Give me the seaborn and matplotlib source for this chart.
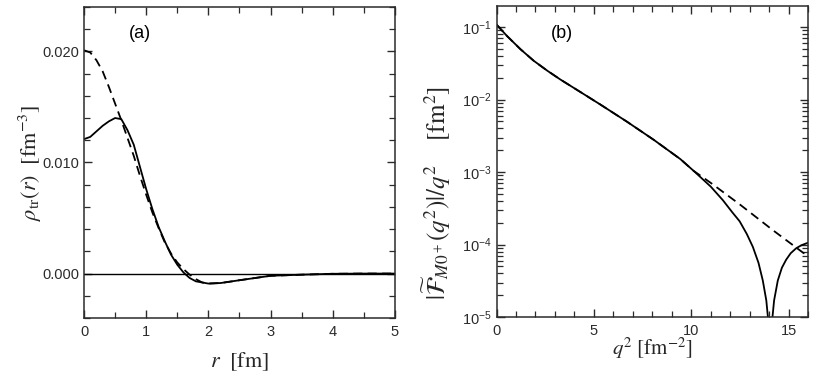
import numpy as np
import pandas as pd
import seaborn as sns
import matplotlib.pyplot as plt
from matplotlib.ticker import MultipleLocator, LogLocator, FuncFormatter, NullFormatter

sns.set_theme(style="ticks")
plt.rcParams["font.family"] = ["Liberation Sans", "DejaVu Sans"]
plt.rcParams["mathtext.fontset"] = "stix"

# panel (a): transition density vs r
r_solid = [0.0, 0.1, 0.2, 0.3, 0.4, 0.5, 0.6, 0.7, 0.8, 0.9, 1.0, 1.1, 1.2, 1.3, 1.4,
           1.5, 1.6, 1.7, 1.8, 1.9, 2.0, 2.2, 2.5, 2.75, 3.0, 3.5, 4.0, 4.5, 5.0]
rho_solid = [0.0121, 0.0123, 0.0128, 0.0133, 0.0137, 0.0140, 0.0139, 0.0129, 0.0116,
             0.0096, 0.0076, 0.0058, 0.0042, 0.0029, 0.0017, 0.0008, 0.0001, -0.0004,
             -0.0007, -0.0008, -0.0009, -0.00085, -0.0006, -0.0004, -0.0002, -0.0001,
             -0.00002, 0.0, 0.0]
r_dash = [0.0, 0.1, 0.2, 0.3, 0.4, 0.5, 0.6, 0.7, 0.8, 0.9, 1.0, 1.1, 1.2, 1.3, 1.4,
          1.5, 1.6, 1.7, 1.8, 1.9, 2.0, 2.2, 2.5, 2.75, 3.0, 3.5, 4.0, 4.5, 5.0]
rho_dash = [0.0201, 0.0199, 0.0192, 0.0182, 0.0168, 0.0153, 0.0138, 0.0122, 0.0106,
            0.0088, 0.0071, 0.0055, 0.0041, 0.0028, 0.0018, 0.0010, 0.0004, -0.0001,
            -0.0005, -0.0008, -0.0009, -0.00085, -0.0006, -0.0004, -0.0002, -0.0001,
            -0.00002, 0.0, 0.0]

# panel (b): |F|/q^2 vs q^2
q2_solid = [0.0, 0.54, 1.23, 1.91, 2.6, 3.28, 4.31, 5.33, 6.7, 8.07, 9.44, 10.12, 11.0,
            11.62, 12.1, 12.48, 12.85, 13.16, 13.45, 13.67, 13.85, 13.95, 14.01, 14.05,
            14.09, 14.15, 14.25, 14.44, 14.65, 14.87, 15.1, 15.38, 15.65, 15.9, 16.0]
f_solid = [0.1084, 0.0752, 0.0495, 0.0343, 0.0251, 0.0189, 0.0127, 0.00855, 0.00495,
           0.00279, 0.00151, 0.00104, 0.00063, 0.00041, 0.00028, 0.00021, 0.00014,
           9.3e-5, 5.6e-5, 3.2e-5, 1.7e-5, 9e-6, 3.5e-6, 5e-7, 3.5e-6, 9e-6, 1.7e-5,
           3.2e-5, 4.8e-5, 6.2e-5, 7.6e-5, 8.9e-5, 9.8e-5, 1.04e-4, 1.06e-4]
q2_dash = [0.0, 0.54, 1.23, 1.91, 2.6, 3.28, 4.31, 5.33, 6.7, 8.07, 9.44, 10.12, 11.0,
           12.48, 14.19, 15.72, 16.0]
f_dash = [0.1084, 0.0752, 0.0495, 0.0343, 0.0251, 0.0189, 0.0127, 0.00855, 0.00495,
          0.00279, 0.00151, 0.00104, 0.00071, 0.00036, 0.000158, 7.8e-5, 7.0e-5]

ink = "#2b2b2b"

fig = plt.figure(figsize=(8.18, 3.78), dpi=100)
ax1 = fig.add_axes([0.1027, 0.1587, 0.380, 0.823])
ax2 = fig.add_axes([0.607, 0.161, 0.381, 0.823])

# (a)
ax1.axhline(0.0, color="black", lw=1.0)
sns.lineplot(x=r_solid, y=rho_solid, ax=ax1, color="black", lw=1.3)
sns.lineplot(x=r_dash, y=rho_dash, ax=ax1, color="black", lw=1.3, dashes=False,
             linestyle=(0, (5, 3)))
ax1.set_xlim(0, 5)
ax1.set_ylim(-0.004, 0.024)
ax1.xaxis.set_major_locator(MultipleLocator(1))
ax1.xaxis.set_minor_locator(MultipleLocator(0.5))
ax1.yaxis.set_major_locator(MultipleLocator(0.01))
ax1.yaxis.set_minor_locator(MultipleLocator(0.002))
ax1.yaxis.set_major_formatter(FuncFormatter(lambda v, p: f"{v:.3f}"))
ax1.set_xlabel(r"$r\ \ [\mathrm{fm}]$", fontsize=16)
ax1.set_ylabel(r"$\rho_{\rm tr}(r)\ \ [\mathrm{fm}^{-3}]$", fontsize=16)
ax1.xaxis.set_label_coords(0.5, -0.105)
ax1.yaxis.set_label_coords(-0.128, 0.5)
ax1.text(0.18, 0.915, "(a)", transform=ax1.transAxes, fontsize=13, ha="center",
         va="center", color="black")

# (b)
ax2.set_yscale("log")
sns.lineplot(x=q2_solid, y=f_solid, ax=ax2, color="black", lw=1.3)
sns.lineplot(x=q2_dash, y=f_dash, ax=ax2, color="black", lw=1.3, dashes=False,
             linestyle=(0, (5, 3)))
ax2.set_xlim(0, 16)
ax2.set_ylim(1e-5, 0.195)
ax2.xaxis.set_major_locator(MultipleLocator(5))
ax2.xaxis.set_minor_locator(MultipleLocator(1))
ax2.yaxis.set_major_locator(LogLocator(base=10, numticks=10))
ax2.yaxis.set_minor_locator(LogLocator(base=10, subs=np.arange(2, 10), numticks=100))
ax2.yaxis.set_minor_formatter(NullFormatter())
ax2.yaxis.set_major_formatter(
    FuncFormatter(lambda v, p: r"$\mathregular{10^{%d}}$" % int(round(np.log10(v)))))
ax2.set_xlabel(r"$q^2\ [\mathrm{fm}^{-2}]$", fontsize=15)
ax2.set_ylabel(r"$|\widetilde{\mathcal{F}}_{M0^+}(q^2)|/q^2\quad\ [\mathrm{fm}^2]$",
               fontsize=18)
ax2.xaxis.set_label_coords(0.5, -0.06)
ax2.yaxis.set_label_coords(-0.14, 0.40)
ax2.text(0.209, 0.913, "(b)", transform=ax2.transAxes, fontsize=13, ha="center",
         va="center", color="black")

for ax in (ax1, ax2):
    for s in ax.spines.values():
        s.set_visible(True)
        s.set_color(ink)
        s.set_linewidth(1.1)
    ax.tick_params(which="both", direction="in", top=True, right=True, colors=ink,
                   labelcolor=ink, labelsize=10.5)
    ax.tick_params(which="major", length=6, width=1.0)
    ax.tick_params(which="minor", length=4, width=0.9)
    ax.tick_params(axis="x", which="major", pad=5)
    ax.grid(False)

fig.savefig("out.png", dpi=100)
